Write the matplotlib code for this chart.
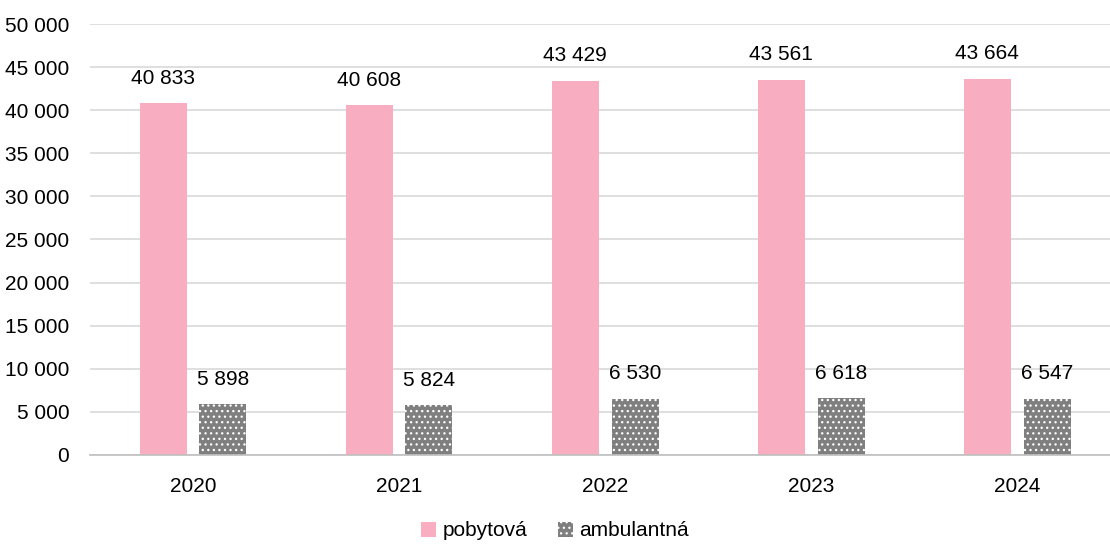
import matplotlib.pyplot as plt
import matplotlib as mpl
import numpy as np

# ===== data =====
years = ["2020", "2021", "2022", "2023", "2024"]
pobytova = [40833, 40608, 43429, 43561, 43664]
ambulantna = [5898, 5824, 6530, 6618, 6547]

def fmt(v):
    return f"{v:,}".replace(",", " ")

plt.rcParams["font.family"] = ["Liberation Sans", "DejaVu Sans"]
mpl.rcParams["hatch.linewidth"] = 0.9
mpl.rcParams["hatch.color"] = "white"

fig = plt.figure(figsize=(11.1, 5.44), dpi=100)
ax = fig.add_axes([90 / 1110, 1 - 455 / 544, 1020 / 1110, (455 - 24) / 544])

x = np.arange(len(years))
w = 0.228
off = 0.145
b1 = ax.bar(x - off, pobytova, w, color="#F8AEC0", zorder=2, label="pobytová")
b2 = ax.bar(x + off, ambulantna, w, color="#7F7F7F", hatch="...",
            edgecolor="white", linewidth=0, zorder=2, label="ambulantná")

for bars, vals in ((b1, pobytova), (b2, ambulantna)):
    for r, v in zip(bars, vals):
        ax.annotate(fmt(v), (r.get_x() + r.get_width() / 2, v),
                    xytext=(0, 11), textcoords="offset points",
                    ha="center", va="bottom", fontsize=15, color="#000000")

ax.set_xlim(-0.5, 4.45)
ax.set_ylim(0, 50000)
ax.set_yticks(range(0, 50001, 5000))
ax.set_yticklabels([fmt(v) for v in range(0, 50001, 5000)])
ax.set_xticks(x)
ax.set_xticklabels(years)
ax.tick_params(axis="both", length=0, labelsize=15)
ax.tick_params(axis="x", pad=16)
ax.tick_params(axis="y", pad=15)
ax.grid(axis="y", color="#D9D9D9", linewidth=1.2, zorder=0)
for s in ("left", "right", "top"):
    ax.spines[s].set_visible(False)
ax.spines["bottom"].set_color("#BFBFBF")
ax.spines["bottom"].set_linewidth(1.2)

fig.legend(loc="center", bbox_to_anchor=(0.5, 1 - 531 / 544), ncol=2,
           frameon=False, fontsize=15, handlelength=0.7, handleheight=0.7,
           handletextpad=0.3, columnspacing=1.5)

fig.savefig("out.png", dpi=100)
